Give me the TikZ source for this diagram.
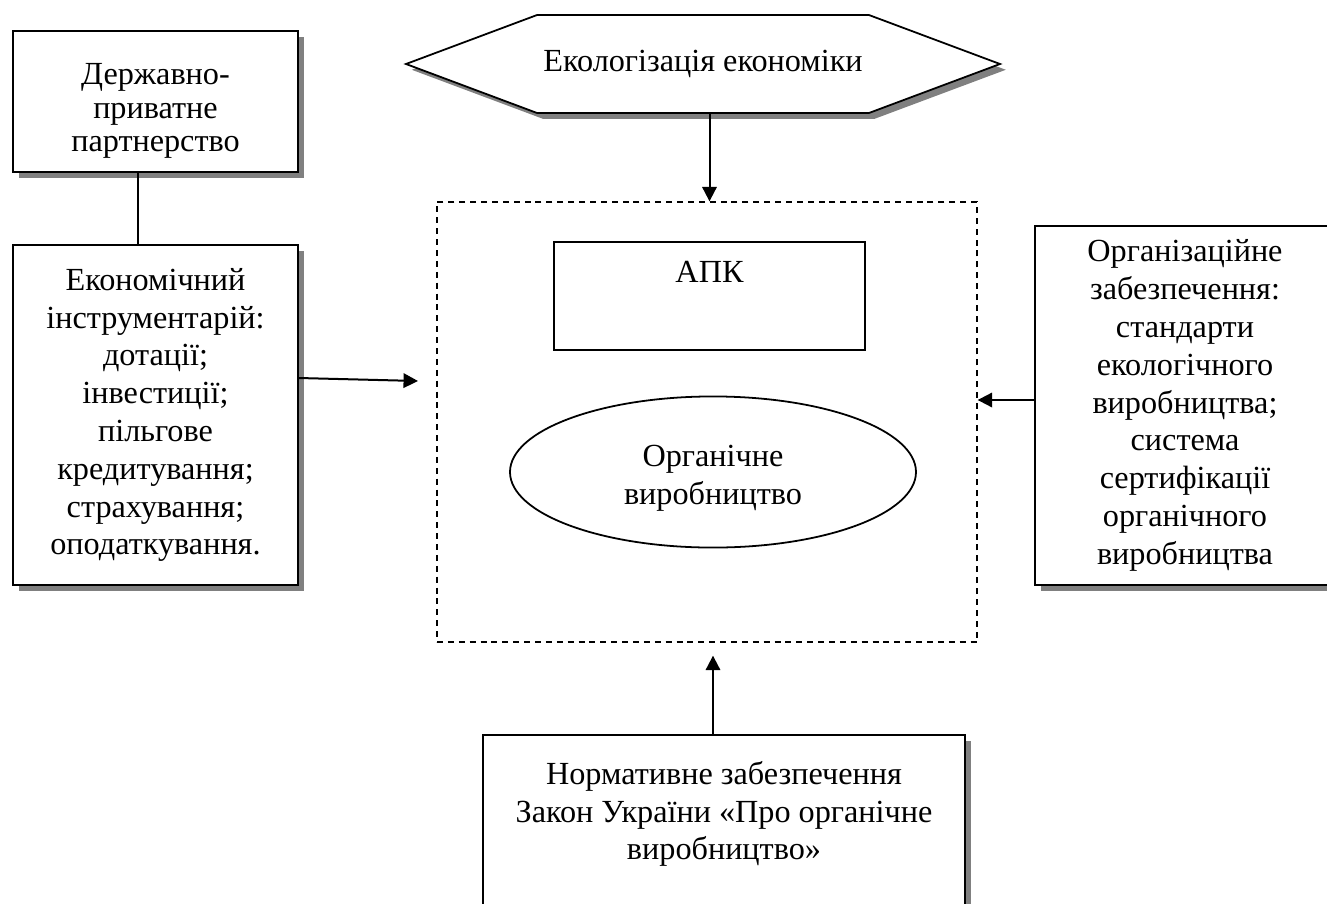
\documentclass[tikz,border=0pt]{standalone}
\usepackage{fontspec}
\setmainfont{Liberation Serif}
\usetikzlibrary{shapes.geometric,shapes.symbols,shadows,arrows.meta}

\begin{document}
\begin{tikzpicture}[x=0.45pt,y=-0.45pt]
\tikzstyle{every node}=[font=\fontsize{14.5}{17}\selectfont,align=center]
\tikzstyle{shadowed}=[drop shadow={shadow xshift=2.6pt,shadow yshift=-2.6pt,fill=gray,opacity=1}]
\tikzstyle{box}=[draw,line width=0.8pt,fill=white,inner sep=0pt]
\tikzstyle{arr}=[line width=0.9pt,-{Triangle[length=6.5pt,width=6.5pt]}]
\useasboundingbox (0,0) rectangle (1327,904);
\clip (0,0) rectangle (1327,904);

\node[box,shadowed,minimum width=128.25pt,minimum height=63.45pt,
  font=\fontsize{14.5}{15}\selectfont] (ppp) at (155.5,101.5)
  {\rule{0pt}{18pt}Державно-\\приватне\\партнерство};
\node[box,shadowed,minimum width=128.25pt,minimum height=153pt] (inst) at (155.5,415)
  {Економічний\\інструментарій:\\дотації;\\інвестиції;\\пільгове\\кредитування;\\страхування;\\оподаткування.};
\node[box,shadowed,signal,signal to=west and east,signal pointer angle=41,
  minimum width=267.3pt,minimum height=44.1pt] (eco) at (703,64) {Екологізація економіки};
\node[draw,dashed,dash pattern=on 2.7pt off 2.2pt,line width=0.6pt,
  minimum width=243pt,minimum height=198pt] (core) at (707,422) {};
\node[box,minimum width=140pt,minimum height=48.6pt,
  label={[anchor=north,inner sep=0pt,yshift=-9pt]north:АПК}] (apk) at (709.5,296) {};
\node[box,ellipse,minimum width=182.7pt,minimum height=68pt] (ell) at (713,472)
  {\rule{0pt}{15pt}Органічне\\виробництво};
\node[box,shadowed,minimum width=135pt,minimum height=161.6pt] (org) at (1185,405.5)
  {Організаційне\\забезпечення:\\стандарти\\екологічного\\виробництва;\\система\\сертифікації\\органічного\\виробництва};
\node[box,shadowed,minimum width=216.9pt,minimum height=81pt,
  label={[anchor=north,inner sep=0pt,yshift=-12pt,align=center]north:{Нормативне забезпечення\\Закон України «Про органічне\\виробництво»}}] (law) at (724,825) {};

\coordinate (link) at (138,0);
\coordinate (instend) at (418,381);
\draw[line width=0.8pt] (link |- ppp.south) -- (link |- inst.north);
\draw[arr] (inst.east |- 0,378) -- (instend);
\draw[arr] (eco.south -| apk.north) -- (core.north -| apk.north);
\draw[arr] (org.west |- 0,400) -- (core.east |- 0,400);
\draw[arr] (ell |- law.north) -- ([yshift=-5.85pt]ell |- core.south);
\end{tikzpicture}
\end{document}
